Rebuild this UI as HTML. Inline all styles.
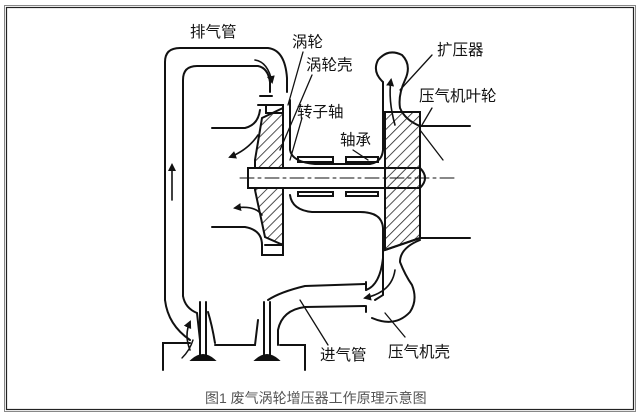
<!DOCTYPE html>
<html><head><meta charset="utf-8"><style>
html,body{margin:0;padding:0;background:#fff;}
svg{display:block}
text{font-family:"Liberation Sans","Noto Sans CJK SC",sans-serif;fill:#111}
</style></head><body>
<svg width="640" height="418" viewBox="0 0 640 418" xmlns="http://www.w3.org/2000/svg">
<defs>
<pattern id="h" width="7" height="7" patternUnits="userSpaceOnUse" patternTransform="rotate(45)">
<line x1="0" y1="0" x2="0" y2="7" stroke="#222" stroke-width="1.6"/>
</pattern>
<marker id="a" markerWidth="8" markerHeight="8" refX="6" refY="4" orient="auto" markerUnits="userSpaceOnUse"><path d="M0,0 L8,4 L0,8 z" fill="#111"/></marker>
</defs>
<rect x="4.5" y="5.5" width="631" height="406" fill="none" stroke="#888" stroke-width="1"/>
<rect x="6.5" y="7.5" width="627" height="402" fill="none" stroke="#222" stroke-width="1.2"/>

<g fill="none" stroke="#111" stroke-width="2" stroke-linecap="round">
<path d="M165,300 L165,62 Q165,48 180,48 L268,48 Q285,50 287,78 L287,92"/>
<path d="M183,296 L183,80 Q183,66 197,66 L258,66 Q268,68 270,82 L270,92"/>
<path d="M165,300 Q168,325 190,340"/>
<path d="M183,296 Q185,308 197,313 L200,340"/>
<path d="M260,96 L272,96 M258,105 L283,105 L283,113 L266,113 L266,105"/>
<path d="M212,128 L245,128 Q258,125 260,110"/>
<path d="M212,227 L245,227 Q262,230 262,245 L262,255 L283,255 L283,245"/>
<path d="M265,245 L283,245"/>
<path d="M262,118 L283,108 L283,245 L265,237 L255,190 L255,160 Z" fill="url(#h)"/>
<path d="M283,108 L283,255"/>
<path d="M290,100 L290,150 Q292,162 315,164 L370,164 Q382,162 383,150 L383,82"/>
<path d="M290,195 Q292,210 312,212 L360,212 Q382,212 383,228 L383,295 L375,300"/>
<rect x="298" y="157" width="35" height="5"/>
<rect x="346" y="157" width="32" height="5"/>
<rect x="298" y="192" width="35" height="4"/>
<rect x="346" y="192" width="32" height="4"/>
<rect x="248" y="168" width="172" height="20" fill="#fff"/>
<path d="M420,168 Q430,178 420,188"/>
<path d="M383,100 L383,82 Q372,72 378,60 Q388,48 402,55 Q412,65 405,80 Q398,95 400,108 Q405,120 420,126 L470,126" fill="#fff"/>
<path d="M385,112 L420,112 L420,238 L385,250 Z" fill="url(#h)"/>
<path d="M385,250 L420,238 L470,238"/>
<path d="M420,240 Q400,248 400,262 Q405,275 412,285 Q418,300 410,312 Q395,328 372,318"/>
<path d="M383,258 Q380,285 366,290"/>
<path d="M268,300 Q280,292 305,286 L365,284"/>
<path d="M278,345 L278,330 Q282,310 305,307 L365,306"/>
<path d="M366,290 L366,282 M366,306 L366,312"/>
<path d="M163,370 L163,343 L190,343"/>
<path d="M215,345 L255,345 L258,320"/>
<path d="M280,345 L305,345 L305,370"/>
<path d="M200,302 L200,355 M206,302 L206,355"/>
<path d="M192,360 Q203,350 214,360 Z" fill="#111"/>
<path d="M264,302 L264,355 M270,302 L270,355"/>
<path d="M256,360 Q267,350 278,360 Z" fill="#111"/>
<path d="M208,312 Q212,325 215,343"/>
<path d="M172,200 L172,165" marker-end="url(#a)" stroke-width="1.6"/>
<path d="M255,60 Q268,62 272,82" marker-end="url(#a)" stroke-width="1.6"/>
<path d="M258,135 Q248,150 230,157" marker-end="url(#a)" stroke-width="1.6"/>
<path d="M262,215 Q255,205 235,208" marker-end="url(#a)" stroke-width="1.6"/>
<path d="M395,125 Q388,100 391,80" marker-end="url(#a)" stroke-width="1.6"/>
<path d="M395,270 Q392,292 365,298" marker-end="url(#a)" stroke-width="1.6"/>
<path d="M190,350 Q184,335 190,322" marker-end="url(#a)" stroke-width="1.6"/>
<path d="M182,358 Q190,350 193,340" stroke-width="1.4"/>
<g stroke-width="1.3">
<path d="M303,52 L288,105"/>
<path d="M312,75 L280,150"/>
<path d="M302,118 L290,160"/>
<path d="M353,150 L368,160"/>
<path d="M432,55 L400,90"/>
<path d="M432,108 L422,125 M420,130 L443,160"/>
<path d="M328,345 L300,300"/>
<path d="M405,337 L385,313"/>
</g>
<path d="M240,178 L455,178" stroke-width="1" stroke-dasharray="14,4,3,4"/>
</g>

<g font-size="15.5">
<text x="190" y="37">排气管</text>
<text x="292" y="47">涡轮</text>
<text x="306" y="70">涡轮壳</text>
<text x="297" y="117">转子轴</text>
<text x="340" y="145">轴承</text>
<text x="437" y="55">扩压器</text>
<text x="419" y="101">压气机叶轮</text>
<text x="320" y="360">进气管</text>
<text x="388" y="357">压气机壳</text>
</g>
<text x="205" y="403" font-size="14" style="fill:#555">图1 废气涡轮增压器工作原理示意图</text>
</svg>
</body></html>
